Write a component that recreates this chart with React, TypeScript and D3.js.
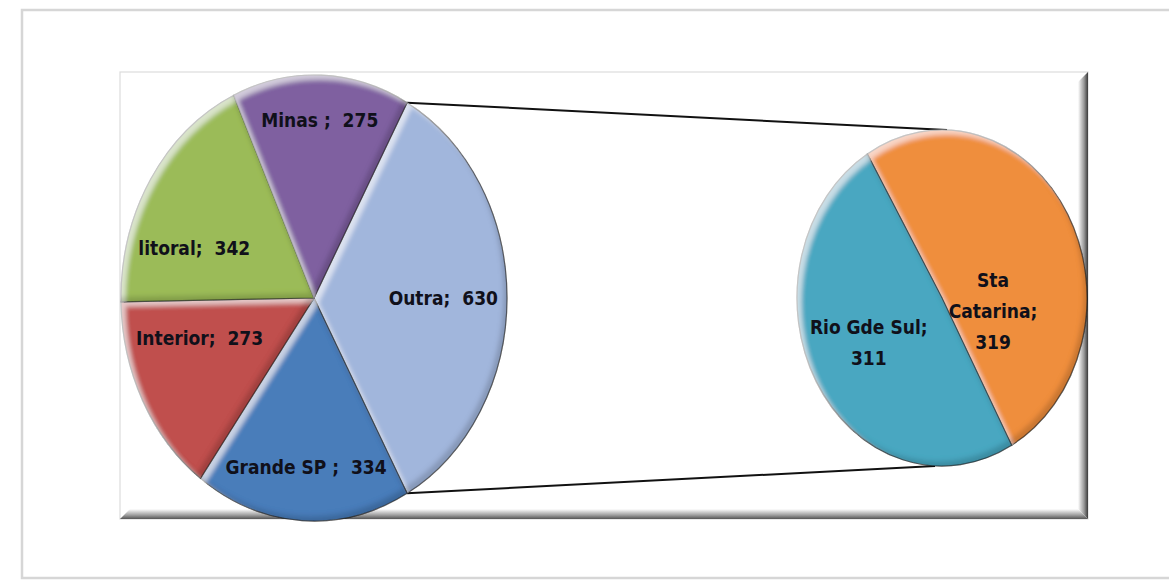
import React from "react";
import * as d3 from "d3";

// ---- data ----
const primaryCategories = ["Outra", "Grande SP ", "Interior", "litoral", "Minas "];
const primaryValues = [630, 334, 273, 342, 275];
const secondaryCategories = ["Sta Catarina", "Rio Gde Sul"];
const secondaryValues = [319, 311];
const primaryColors = ["#A1B6DC", "#4A7DBA", "#C0504D", "#9BBB59", "#7F61A0"];
const secondaryColors = ["#EF8E3E", "#4AA7C1"];

// ---- layout ----
const W = 1169;
const H = 580;
const main = { cx: 314, cy: 298, rx: 193, ry: 223 };
const second = { cx: 942, cy: 298, rx: 145, ry: 168 };
const secondStartDeg = -31;
// label placement: [angle shift in degrees, radius fraction]
const primaryLabelShift: [number, number][] = [[0, 0.67], [-0.5, 0.76], [10.5, 0.62], [-12.3, 0.66], [0, 0.8]];
const secondaryLabelShift: [number, number][] = [[42, 0.36], [2.3, 0.57]];
const FONT = "'Liberation Sans Narrow', 'DejaVu Sans Condensed', 'Open Sans', sans-serif";
const FONT_SIZE = 19;

function wrapWords(text: string, maxChars: number): string[] {
  const words = text.split(" ").filter((w) => w.length);
  const lines: string[] = [];
  let cur = "";
  for (const w of words) {
    const cand = cur ? cur + " " + w : w;
    if (cand.length > maxChars && cur) {
      lines.push(cur);
      cur = w;
    } else cur = cand;
  }
  if (cur) lines.push(cur);
  return lines;
}

type Geo = { cx: number; cy: number; rx: number; ry: number };

function Pie({ geo, cats, vals, colors, start, shifts, wrap, lh }: {
  geo: Geo; cats: string[]; vals: number[]; colors: string[]; start: number;
  shifts: [number, number][]; wrap: boolean; lh: number;
}) {
  const pie = d3.pie<number>().sort(null).startAngle(start).endAngle(start + 2 * Math.PI);
  const arcs = pie(vals);
  const arc = d3.arc<d3.PieArcDatum<number>>().innerRadius(0).outerRadius(geo.rx);
  const sy = geo.ry / geo.rx;
  return (
    <g>
      <g transform={`translate(${geo.cx},${geo.cy}) scale(1,${sy})`}>
        {arcs.map((a, i) => (
          <path key={i} d={arc(a) || ""} fill={colors[i]} filter="url(#bevel)"
            stroke="#1e1e1e" strokeOpacity={0.6} strokeWidth={1.2} vectorEffect="non-scaling-stroke" />
        ))}
      </g>
      {arcs.map((a, i) => {
        const mid = (a.startAngle + a.endAngle) / 2 + (shifts[i][0] * Math.PI) / 180;
        const r = shifts[i][1];
        const x = geo.cx + geo.rx * r * Math.sin(mid);
        const y = geo.cy - geo.ry * r * Math.cos(mid);
        const lines = wrap
          ? [...wrapWords(cats[i].trim() + ";", 12), String(vals[i])]
          : [`${cats[i]};  ${vals[i]}`];
        const n = lines.length;
        return (
          <text key={i} x={x} y={y} textAnchor="middle" fontFamily={FONT} fontWeight="bold"
            fontSize={FONT_SIZE} fill="#10101a" style={{ whiteSpace: "pre" }}>
            {lines.map((l, j) => (
              <tspan key={j} x={x} y={y + (j - (n - 1) / 2) * lh} dominantBaseline="central">{l}</tspan>
            ))}
          </text>
        );
      })}
    </g>
  );
}

export default function App() {
  const total = d3.sum(primaryValues);
  const mainStart = Math.PI / 2 - (Math.PI * primaryValues[0]) / total;
  const mainEnd0 = mainStart + (2 * Math.PI * primaryValues[0]) / total;
  const secStart = (secondStartDeg * Math.PI) / 180;

  const p1 = [main.cx + main.rx * Math.sin(mainStart), main.cy - main.ry * Math.cos(mainStart)];
  const p2 = [main.cx + main.rx * Math.sin(mainEnd0), main.cy - main.ry * Math.cos(mainEnd0)];
  const q1 = [second.cx + 5, second.cy - second.ry];
  const q2 = [second.cx - 7, second.cy + second.ry];

  const box = { x0: 120, y0: 72, x1: 1088, y1: 519 };
  const sh = 10;

  return (
    <div style={{ position: "absolute", left: 0, top: 0 }}>
      <svg width={W} height={H} viewBox={`0 0 ${W} ${H}`} style={{ display: "block", background: "#fff" }}>
        <defs>
          <filter id="bevel" x="-10%" y="-10%" width="120%" height="120%">
            <feGaussianBlur in="SourceAlpha" stdDeviation="2.2" result="b" />
            <feOffset in="b" dx="4.5" dy="4.5" result="o1" />
            <feComposite in="SourceAlpha" in2="o1" operator="arithmetic" k1={0} k2={1} k3={-1} k4={0} result="hiMask" />
            <feFlood floodColor="#ffffff" floodOpacity={0.55} result="white" />
            <feComposite in="white" in2="hiMask" operator="in" result="hi" />
            <feOffset in="b" dx="-4" dy="-4" result="o2" />
            <feComposite in="SourceAlpha" in2="o2" operator="arithmetic" k1={0} k2={1} k3={-1} k4={0} result="shMask" />
            <feFlood floodColor="#000000" floodOpacity={0.32} result="black" />
            <feComposite in="black" in2="shMask" operator="in" result="shd" />
            <feMerge>
              <feMergeNode in="SourceGraphic" />
              <feMergeNode in="hi" />
              <feMergeNode in="shd" />
            </feMerge>
          </filter>
          <linearGradient id="shR" x1="0" x2="1" y1="0" y2="0">
            <stop offset="0" stopColor="#ffffff" />
            <stop offset="0.6" stopColor="#9a9a9a" />
            <stop offset="1" stopColor="#3a3a3a" />
          </linearGradient>
          <linearGradient id="shB" x1="0" x2="0" y1="0" y2="1">
            <stop offset="0" stopColor="#ffffff" />
            <stop offset="0.6" stopColor="#a0a0a0" />
            <stop offset="1" stopColor="#555555" />
          </linearGradient>
        </defs>

        {/* outer frame */}
        <rect x={22} y={10} width={1170} height={568} fill="#fff" stroke="#d6d6d6" strokeWidth={2.5} />

        {/* inner plot box */}
        <rect x={box.x0} y={box.y0} width={box.x1 - box.x0} height={box.y1 - box.y0} fill="#fff" stroke="#dcdcdc" strokeWidth={1.2} />
        <polygon points={`${box.x1 - sh},${box.y0 + sh} ${box.x1},${box.y0} ${box.x1},${box.y1} ${box.x1 - sh},${box.y1 - sh}`} fill="url(#shR)" />
        <polygon points={`${box.x0},${box.y1} ${box.x0 + sh},${box.y1 - sh} ${box.x1 - sh},${box.y1 - sh} ${box.x1},${box.y1}`} fill="url(#shB)" />

        {/* connector lines */}
        <line x1={p1[0]} y1={p1[1]} x2={q1[0]} y2={q1[1]} stroke="#111" strokeWidth={2} />
        <line x1={p2[0]} y1={p2[1]} x2={q2[0]} y2={q2[1]} stroke="#111" strokeWidth={2} />

        <Pie geo={main} cats={primaryCategories} vals={primaryValues} colors={primaryColors}
          start={mainStart} shifts={primaryLabelShift} wrap={false} lh={22} />
        <Pie geo={second} cats={secondaryCategories} vals={secondaryValues} colors={secondaryColors}
          start={secStart} shifts={secondaryLabelShift} wrap={true} lh={31} />
      </svg>
    </div>
  );
}
